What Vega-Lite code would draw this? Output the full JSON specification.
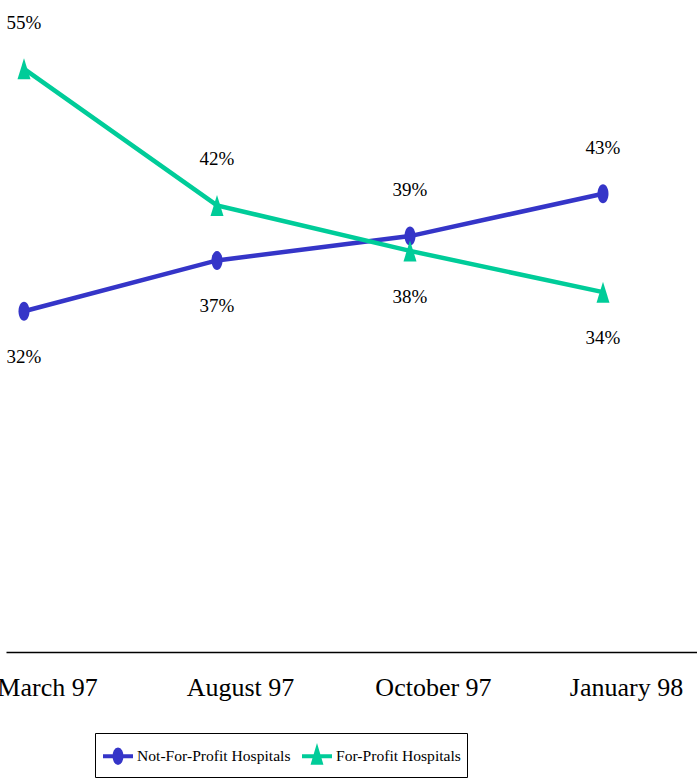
{
  "$schema": "https://vega.github.io/schema/vega-lite/v6.json",
  "width": 691,
  "height": 635,
  "autosize": {"type": "none"},
  "padding": {"left": 6, "top": 17, "right": 0, "bottom": 131},
  "background": "white",
  "config": {"view": {"stroke": null}, "font": "Liberation Serif"},
  "data": {
    "values": [
      {"period": "March 97", "series": "Not-For-Profit Hospitals", "share": 0.322},
      {"period": "August 97", "series": "Not-For-Profit Hospitals", "share": 0.370},
      {"period": "October 97", "series": "Not-For-Profit Hospitals", "share": 0.393},
      {"period": "January 98", "series": "Not-For-Profit Hospitals", "share": 0.433},
      {"period": "March 97", "series": "For-Profit Hospitals", "share": 0.551},
      {"period": "August 97", "series": "For-Profit Hospitals", "share": 0.422},
      {"period": "October 97", "series": "For-Profit Hospitals", "share": 0.379},
      {"period": "January 98", "series": "For-Profit Hospitals", "share": 0.340}
    ]
  },
  "encoding": {
    "x": {
      "field": "period",
      "type": "ordinal",
      "sort": ["March 97", "August 97", "October 97", "January 98"],
      "scale": {"type": "point", "padding": 0.29016, "align": 0.1607},
      "axis": {
        "title": null,
        "ticks": false,
        "grid": false,
        "labelPadding": 22,
        "labelOffset": 23,
        "labelFontSize": 26,
        "labelFont": "Liberation Serif",
        "labelColor": "black",
        "labelAngle": 0,
        "labelOverlap": false,
        "labelBound": false,
        "domainColor": "black",
        "domainWidth": 1.5
      }
    },
    "y": {
      "field": "share",
      "type": "quantitative",
      "scale": {"domain": [0, 0.6]},
      "axis": null
    }
  },
  "layer": [
    {
      "mark": {"type": "line", "strokeWidth": 4.5},
      "encoding": {
        "color": {
          "field": "series",
          "type": "nominal",
          "scale": {
            "domain": ["Not-For-Profit Hospitals", "For-Profit Hospitals"],
            "range": ["#3535C8", "#00CC99"]
          },
          "legend": {
            "orient": "none",
            "legendX": 89,
            "legendY": 716,
            "direction": "horizontal",
            "columns": 2,
            "title": null,
            "strokeColor": "black",
            "padding": 6,
            "symbolSize": 900,
            "symbolStrokeWidth": 4,
            "labelFont": "Liberation Serif",
            "labelFontSize": 15.6,
            "labelLimit": 0,
            "labelColor": "black",
            "labelBaseline": "middle",
            "labelOffset": 2,
            "columnPadding": 3,
            "encode": {
              "symbols": {
                "update": {
                  "shape": {"signal": "datum.value === 'Not-For-Profit Hospitals' ? 'M-1,0L1,0M0,-0.45A0.23,0.45 0 1,1 0,0.45A0.23,0.45 0 1,1 0,-0.45Z' : 'M-1,0L1,0M0,-0.42L0.25,0.42L-0.25,0.42Z'"},
                  "fill": {"signal": "datum.value === 'Not-For-Profit Hospitals' ? '#3535C8' : '#00CC99'"},
                  "stroke": {"signal": "datum.value === 'Not-For-Profit Hospitals' ? '#3535C8' : '#00CC99'"},
                  "strokeWidth": {"value": 4},
                  "opacity": {"value": 1}
                }
              }
            }
          }
        }
      }
    },
    {
      "transform": [{"filter": "datum.series === 'Not-For-Profit Hospitals'"}],
      "mark": {"type": "point", "filled": true, "opacity": 1, "size": 400, "strokeWidth": 0, "color": "#3535C8", "shape": "M0,-0.95A0.55,0.95 0 1,1 0,0.95A0.55,0.95 0 1,1 0,-0.95Z"}
    },
    {
      "transform": [{"filter": "datum.series === 'For-Profit Hospitals'"}],
      "mark": {"type": "point", "filled": true, "opacity": 1, "size": 400, "strokeWidth": 0, "color": "#00CC99", "shape": "M0,-1.05L0.65,1.05L-0.65,1.05Z"}
    },
    {
      "transform": [
        {"window": [{"op": "rank", "as": "rk"}], "groupby": ["period"], "sort": [{"field": "share", "order": "descending"}]},
        {"filter": "datum.rk === 1"}
      ],
      "mark": {"type": "text", "dy": -46, "baseline": "middle", "align": "center", "fontSize": 19, "font": "Liberation Serif", "color": "black"},
      "encoding": {"text": {"field": "share", "type": "quantitative", "format": ".0%"}}
    },
    {
      "transform": [
        {"window": [{"op": "rank", "as": "rk"}], "groupby": ["period"], "sort": [{"field": "share", "order": "descending"}]},
        {"filter": "datum.rk === 2"}
      ],
      "mark": {"type": "text", "dy": 46, "baseline": "middle", "align": "center", "fontSize": 19, "font": "Liberation Serif", "color": "black"},
      "encoding": {"text": {"field": "share", "type": "quantitative", "format": ".0%"}}
    }
  ]
}
